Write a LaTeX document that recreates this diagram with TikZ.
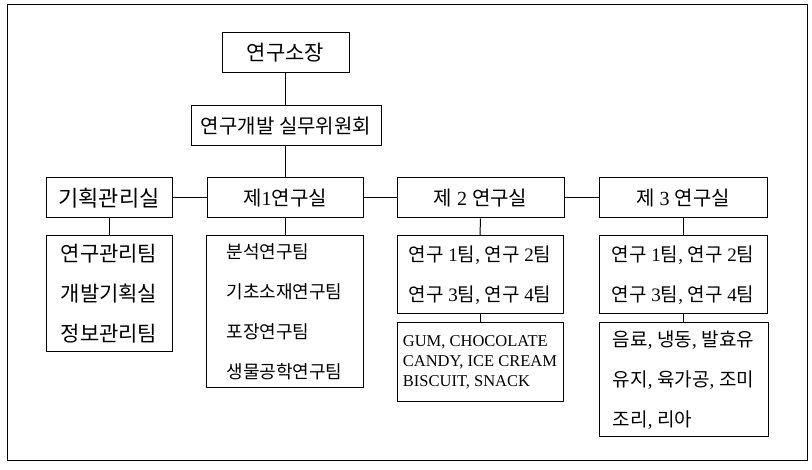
\documentclass[tikz,border=0pt]{standalone}
\usepackage{fontspec}
\setmainfont{Liberation Serif}
\newfontfamily\kr{Noto Sans CJK KR}
\begin{document}
\begin{tikzpicture}[x=1pt,y=-1pt,
  box/.style={draw,line width=1pt,inner sep=0pt,align=center},
  hd/.style={font=\fontsize{20}{24}\selectfont},
  hdl/.style={font=\fontsize{22}{24}\selectfont},
  lst/.style={font=\fontsize{19}{40}\selectfont},
  lstb/.style={font=\fontsize{21}{40}\selectfont},
  lstl/.style={font=\fontsize{18}{40}\selectfont,align=left},
  eng/.style={font=\fontsize{16.5}{20}\selectfont,align=left},
  link/.style={line width=1pt}]
\useasboundingbox (0,0) rectangle (812,470);
\draw[line width=1pt] (7,5) rectangle (807,461);
% main boxes
\node[box,font=\fontsize{21}{24}\selectfont,minimum width=127pt,minimum height=40pt] (top) at (285.5,53) {\kr 연구소장};
\node[box,hd,minimum width=190pt,minimum height=40pt] (comm) at (286,126) {\kr 연구개발 실무위원회};
\node[box,hdl,minimum width=126pt,minimum height=40pt] (plan) at (109,198) {\kr 기획관리실};
\node[box,hd,minimum width=156pt,minimum height=40pt] (lab1) at (285,198) {{\kr 제}1{\kr 연구실}};
\node[box,hd,minimum width=167pt,minimum height=40pt] (lab2) at (480.5,198) {{\kr 제} 2 {\kr 연구실}};
\node[box,hd,minimum width=168pt,minimum height=40pt] (lab3) at (683,198) {{\kr 제} 3 {\kr 연구실}};
% sub boxes
\node[box,lstb,minimum width=126pt,minimum height=116pt] (plansub) at (109,294)
  {\kr 연구관리팀\\ \kr 개발기획실\\ \kr 정보관리팀};
\node[box,lstl,minimum width=157pt,minimum height=152pt] (lab1sub) at (284.5,312)
  {\kr 분석연구팀\\ \kr 기초소재연구팀\\ \kr 포장연구팀\\ \kr 생물공학연구팀};
\node[box,lst,minimum width=166pt,minimum height=78pt] (lab2a) at (480,275)
  {{\kr 연구} 1{\kr 팀}, {\kr 연구} 2{\kr 팀}\\ {\kr 연구} 3{\kr 팀}, {\kr 연구} 4{\kr 팀}};
\node[box,eng,minimum width=166pt,minimum height=79pt] (lab2b) at (480,362.5)
  {GUM, CHOCOLATE\\ CANDY, ICE CREAM\\ BISCUIT, SNACK};
\node[box,lst,minimum width=168pt,minimum height=78pt] (lab3a) at (683,275)
  {{\kr 연구} 1{\kr 팀}, {\kr 연구} 2{\kr 팀}\\ {\kr 연구} 3{\kr 팀}, {\kr 연구} 4{\kr 팀}};
\node[box,lst,align=left,minimum width=169pt,minimum height=114pt] (lab3b) at (683.5,380)
  {{\kr 음료}, {\kr 냉동}, {\kr 발효유}\\ {\kr 유지}, {\kr 육가공}, {\kr 조미}\\ {\kr 조리}, {\kr 리아}};
% connectors
\draw[link] (top.south) -- (top.south |- comm.north);
\draw[link] (comm.south -| lab1.north) -- (lab1.north);
\draw[link] (plan.east) -- (lab1.west);
\draw[link] (lab1.east) -- (lab2.west);
\draw[link] (lab2.east) -- (lab3.west);
\draw[link] (plan.south) -- (plansub.north);
\draw[link] (lab1.south) -- (lab1.south |- lab1sub.north);
\draw[link] (lab2.south) -- (lab2a.north);
\draw[link] (lab2a.south) -- (lab2b.north);
\draw[link] (lab3.south) -- (lab3a.north);
\draw[link] (lab3a.south) -- (lab3a.south |- lab3b.north);
\end{tikzpicture}
\end{document}
